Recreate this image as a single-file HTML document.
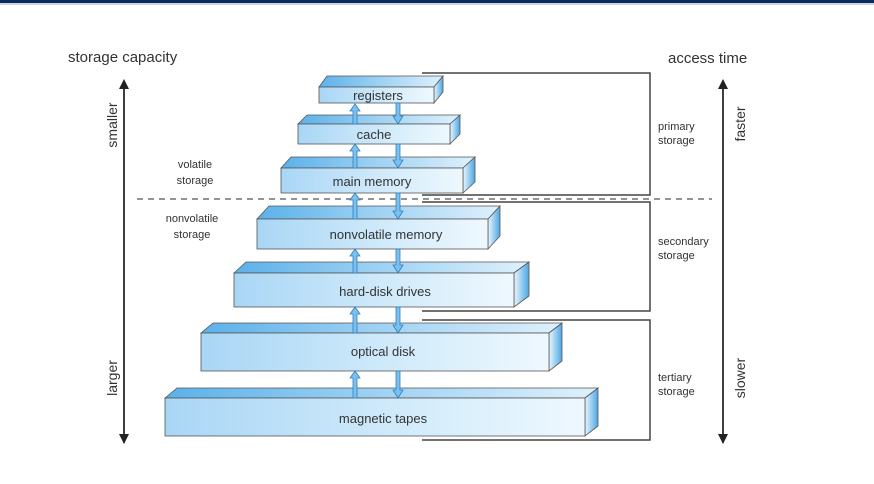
<!DOCTYPE html>
<html><head><style>
html,body{margin:0;padding:0;background:#fff;}
svg{display:block;}
text{font-family:"Liberation Sans",sans-serif;fill:#333;}
</style></head><body>
<svg width="874" height="484" viewBox="0 0 874 484" xmlns="http://www.w3.org/2000/svg">
<defs>
<linearGradient id="f" x1="0" x2="1" y1="0" y2="0">
<stop offset="0" stop-color="#a9d6f5"/><stop offset="0.6" stop-color="#d4ecfb"/><stop offset="1" stop-color="#eef8fe"/>
</linearGradient>
<linearGradient id="t" x1="0" x2="1" y1="0" y2="0">
<stop offset="0" stop-color="#5bb1ea"/><stop offset="0.5" stop-color="#9fd2f3"/><stop offset="1" stop-color="#dff1fc"/>
</linearGradient>
<linearGradient id="s" x1="0" x2="1" y1="0" y2="0">
<stop offset="0" stop-color="#eaf6fd"/><stop offset="1" stop-color="#4aa6e3"/>
</linearGradient>
<marker id="ah" markerWidth="10" markerHeight="10" refX="5" refY="5" orient="auto" markerUnits="userSpaceOnUse">
<path d="M0,0 L10,5 L0,10 z" fill="#222"/></marker>
</defs>
<rect x="0" y="0" width="874" height="3" fill="#0d2a5c"/>
<rect x="0" y="3" width="874" height="2" fill="#c9d6e6"/>

<text x="68" y="62" font-size="15">storage capacity</text>
<text x="668" y="63" font-size="15">access time</text>
<line x1="124" y1="443" x2="124" y2="84" stroke="#222" stroke-width="1.5" marker-end="url(#ah)"/>
<line x1="124" y1="88" x2="124" y2="439" stroke="#222" stroke-width="1.5" marker-end="url(#ah)"/>
<line x1="723" y1="443" x2="723" y2="84" stroke="#222" stroke-width="1.5" marker-end="url(#ah)"/>
<line x1="723" y1="88" x2="723" y2="439" stroke="#222" stroke-width="1.5" marker-end="url(#ah)"/>
<text transform="translate(117,125) rotate(-90)" font-size="14" text-anchor="middle">smaller</text>
<text transform="translate(117,378) rotate(-90)" font-size="14" text-anchor="middle">larger</text>
<text transform="translate(745,124) rotate(-90)" font-size="14" text-anchor="middle">faster</text>
<text transform="translate(745,378) rotate(-90)" font-size="14" text-anchor="middle">slower</text>

<text x="195" y="168" font-size="11" text-anchor="middle">volatile</text>
<text x="195" y="184" font-size="11" text-anchor="middle">storage</text>
<text x="192" y="222" font-size="11" text-anchor="middle">nonvolatile</text>
<text x="192" y="238" font-size="11" text-anchor="middle">storage</text>

<line x1="137" y1="199" x2="712" y2="199" stroke="#555" stroke-width="1.3" stroke-dasharray="6,5"/>

<g fill="none" stroke="#444" stroke-width="1.5">
<polyline points="422,73 650,73 650,195 422,195"/>
<polyline points="422,202 650,202 650,311 422,311"/>
<polyline points="422,320 650,320 650,440 422,440"/>
</g>
<g font-size="11">
<text x="658" y="130">primary</text><text x="658" y="144">storage</text>
<text x="658" y="245">secondary</text><text x="658" y="259">storage</text>
<text x="658" y="381">tertiary</text><text x="658" y="395">storage</text>
</g>

<g stroke="#555" stroke-width="0.8">
<!-- boxes: x1,x2,y1,y2,dx,dy -->
<path d="M319,87 L327,76 L443,76 L434,87 z" fill="url(#t)"/><path d="M434,87 L443,76 L443,92 L434,103 z" fill="url(#s)"/><rect x="319" y="87" width="115" height="16" fill="url(#f)"/>
<path d="M298,124 L307,115 L460,115 L450,124 z" fill="url(#t)"/><path d="M450,124 L460,115 L460,134 L450,144 z" fill="url(#s)"/><rect x="298" y="124" width="152" height="20" fill="url(#f)"/>
<path d="M281,168 L291,157 L475,157 L463,168 z" fill="url(#t)"/><path d="M463,168 L475,157 L475,182 L463,193 z" fill="url(#s)"/><rect x="281" y="168" width="182" height="25" fill="url(#f)"/>
<path d="M257,219 L269,206 L500,206 L488,219 z" fill="url(#t)"/><path d="M488,219 L500,206 L500,236 L488,249 z" fill="url(#s)"/><rect x="257" y="219" width="231" height="30" fill="url(#f)"/>
<path d="M234,273 L246,262 L529,262 L514,273 z" fill="url(#t)"/><path d="M514,273 L529,262 L529,296 L514,307 z" fill="url(#s)"/><rect x="234" y="273" width="280" height="34" fill="url(#f)"/>
<path d="M201,333 L213,323 L562,323 L549,333 z" fill="url(#t)"/><path d="M549,333 L562,323 L562,361 L549,371 z" fill="url(#s)"/><rect x="201" y="333" width="348" height="38" fill="url(#f)"/>
<path d="M165,398 L177,388 L598,388 L585,398 z" fill="url(#t)"/><path d="M585,398 L598,388 L598,426 L585,436 z" fill="url(#s)"/><rect x="165" y="398" width="420" height="38" fill="url(#f)"/>
</g>
<g font-size="13" text-anchor="middle">
<text x="378" y="100">registers</text>
<text x="374" y="139">cache</text>
<text x="372" y="186">main memory</text>
<text x="386" y="239">nonvolatile memory</text>
<text x="385" y="296">hard-disk drives</text>
<text x="383" y="356">optical disk</text>
<text x="383" y="423">magnetic tapes</text>
</g>

<g fill="#7cc0ee" stroke="#2d7fc0" stroke-width="0.8">
<!-- up arrows at x=355 -->
<path d="M353,124 L353,111 L350,111 L355,104 L360,111 L357,111 L357,124 z"/>
<path d="M353,168 L353,151 L350,151 L355,144 L360,151 L357,151 L357,168 z"/>
<path d="M353,219 L353,200 L350,200 L355,193 L360,200 L357,200 L357,219 z"/>
<path d="M353,273 L353,256 L350,256 L355,249 L360,256 L357,256 L357,273 z"/>
<path d="M353,333 L353,314 L350,314 L355,307 L360,314 L357,314 L357,333 z"/>
<path d="M353,398 L353,378 L350,378 L355,371 L360,378 L357,378 L357,398 z"/>
<!-- down arrows at x=398 -->
<path d="M396,103 L396,116 L393,116 L398,124 L403,116 L400,116 L400,103 z"/>
<path d="M396,144 L396,160 L393,160 L398,168 L403,160 L400,160 L400,144 z"/>
<path d="M396,193 L396,211 L393,211 L398,219 L403,211 L400,211 L400,193 z"/>
<path d="M396,249 L396,265 L393,265 L398,273 L403,265 L400,265 L400,249 z"/>
<path d="M396,307 L396,325 L393,325 L398,333 L403,325 L400,325 L400,307 z"/>
<path d="M396,371 L396,390 L393,390 L398,398 L403,390 L400,390 L400,371 z"/>
</g>
</svg>
</body></html>
